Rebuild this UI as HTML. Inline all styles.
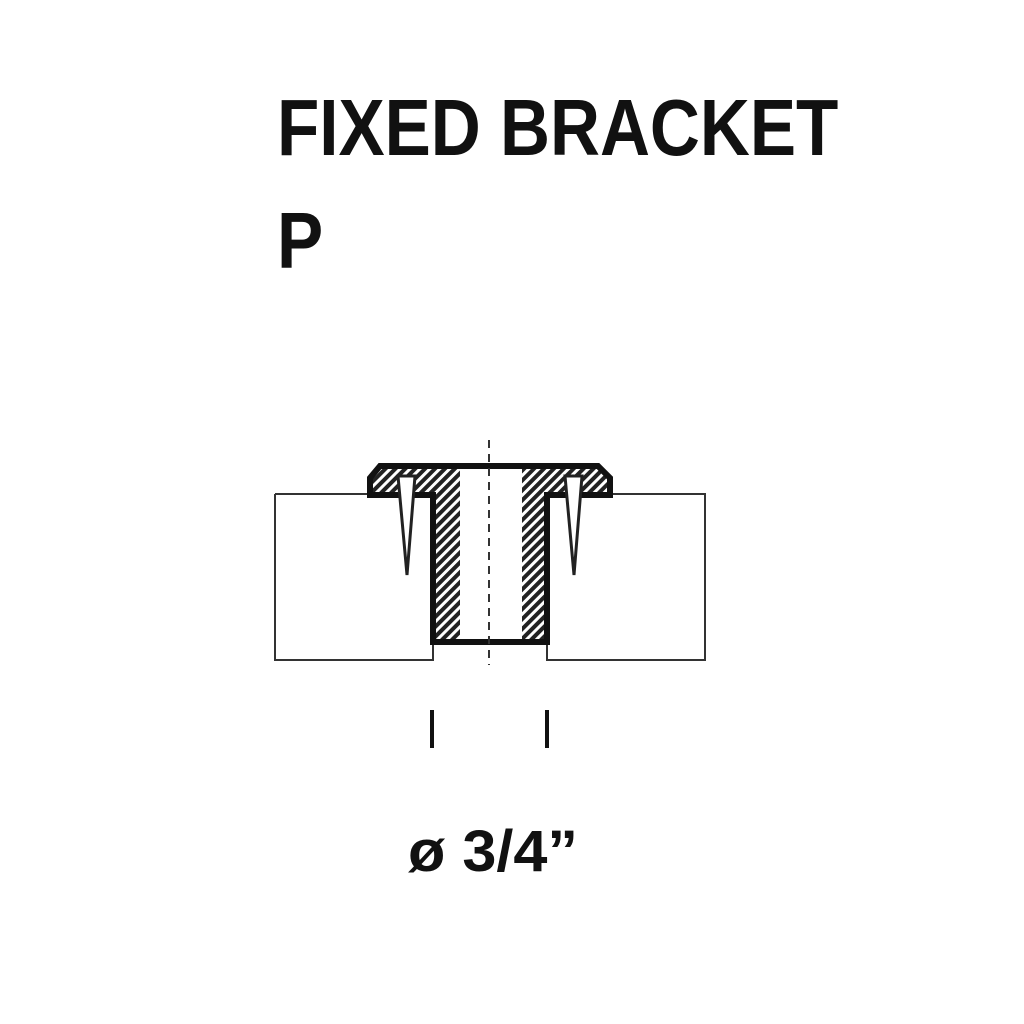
<!DOCTYPE html>
<html><head><style>
body{margin:0;background:#fff;width:1024px;height:1024px;overflow:hidden;position:relative;font-family:"Liberation Sans",sans-serif}
.t{position:absolute;left:277px;font-size:80px;font-weight:bold;color:#111;line-height:1;transform:scaleX(0.865);transform-origin:0 0;white-space:nowrap}
</style></head><body>
<div class="t" style="top:88px">FIXED BRACKET</div>
<div class="t" style="top:201px">P</div>
<svg width="1024" height="1024" style="position:absolute;left:0;top:0">
<defs><pattern id="h" width="7" height="7" patternUnits="userSpaceOnUse" patternTransform="rotate(45)"><rect width="7" height="7" fill="#fff"/><rect width="4" height="7" fill="#222"/></pattern></defs>
<g fill="#fff" stroke="#333" stroke-width="2">
<path d="M275 494 V660 H433 V642"/>
<path d="M610 494 H705 V660 H547 V642"/>
<path d="M275 494 H372"/>
</g>
<path d="M380 466 H598 L610 478 V495 H547 V642 H433 V495 H370 V478 Z" fill="url(#h)" stroke="#111" stroke-width="6"/>
<rect x="460" y="469" width="62" height="170" fill="#fff"/>
<path d="M398 476 L415 476 L407 575 Z M565 476 L582 476 L574 575 Z" fill="#fff" stroke="#222" stroke-width="3"/>
<line x1="489" y1="440" x2="489" y2="665" stroke="#333" stroke-width="2" stroke-dasharray="8,6"/>
<line x1="432" y1="710" x2="432" y2="748" stroke="#111" stroke-width="4"/>
<line x1="547" y1="710" x2="547" y2="748" stroke="#111" stroke-width="4"/>
<text x="408" y="871" font-size="58" font-weight="bold" fill="#111" font-family="Liberation Sans,sans-serif" textLength="170" lengthAdjust="spacingAndGlyphs">ø 3/4”</text>
</svg>
</body></html>
